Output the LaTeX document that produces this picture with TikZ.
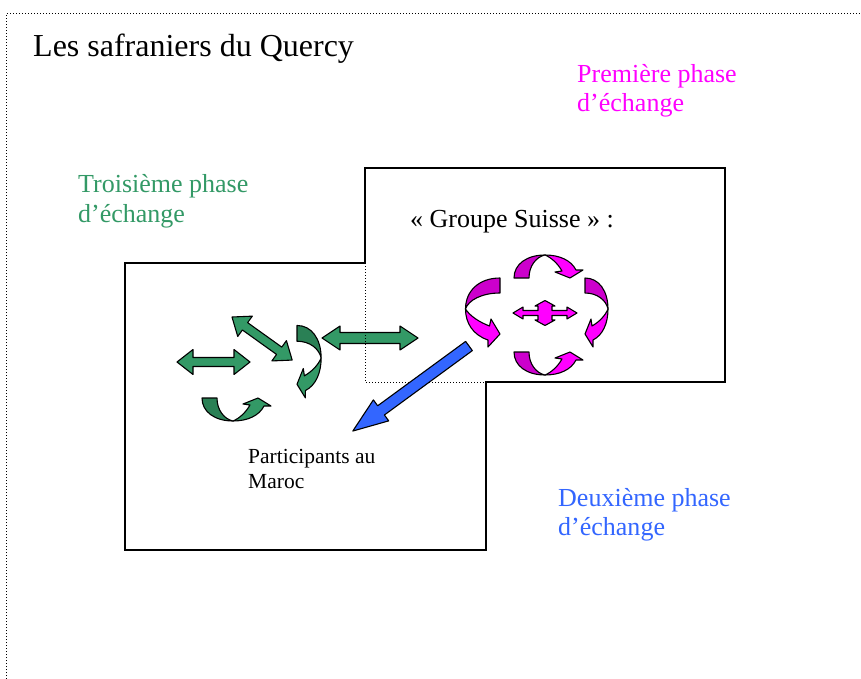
\documentclass[tikz,border=0pt]{standalone}
\usepackage{fontspec}
\setmainfont{Liberation Serif}

\definecolor{phasegreen}{HTML}{339966}
\definecolor{phasegreendk}{HTML}{2A8055}
\definecolor{phasemag}{HTML}{FF00FF}
\definecolor{phasemagdk}{HTML}{CC00CC}
\definecolor{phaseblue}{HTML}{3366FF}

\tikzset{
  shapeline/.style={draw=black, line width=1.1pt, line join=round},
  outline/.style={draw=black, line width=1.5pt},
  dotline/.style={draw=black, line width=1pt, dash pattern=on 1pt off 2pt},
  lbl/.style={anchor=base west, inner sep=0pt, align=left,
              font=\fontsize{26}{29}\selectfont},
}

% ribbon-like U-turn arrow: back half (#2) then front half with head (#3)
\newcommand{\ribbonarrow}[3]{%
  \begin{scope}[#1]
    \path[fill=#2, shapeline] (-31,0) .. controls (-31,-14) and (-18,-23) .. (0,-23)
      .. controls (-9,-21) and (-16,-12) .. (-16,0) -- cycle;
    \path[fill=#3, shapeline] (0,-23) .. controls (14,-23) and (26,-18) .. (31,-8)
      -- (38,-8) -- (25,0) -- (10,-6) -- (17,-7)
      .. controls (13,-14) and (7,-20) .. (0,-23) -- cycle;
  \end{scope}}

% straight double-headed arrow along local x: length, head length, head half-width, shaft half-width
\newcommand{\twoheaded}[5]{%
  \path[fill=phasegreen, shapeline, #1] (0,0) -- (#3,-#4) -- (#3,-#5) -- ({#2-#3},-#5)
    -- ({#2-#3},-#4) -- (#2,0) -- ({#2-#3},#4) -- ({#2-#3},#5) -- (#3,#5) -- (#3,#4) -- cycle;}

\begin{document}
\begin{tikzpicture}[x=1pt, y=-1pt]
  \useasboundingbox (0,0) rectangle (861,679);

  % page frame
  \draw[dotline] (6,679) -- (6,14) -- (861,14);

  % outline of the two overlapping groups
  \draw[outline] (125,263) -- (365,263) -- (365,168) -- (725,168) -- (725,382)
    -- (486,382) -- (486,550) -- (125,550) -- cycle;

  % titles and labels (multi-line labels are anchored on their last baseline)
  \node[lbl, font=\fontsize{32}{36}\selectfont] (title) at (33,57) {Les safraniers du Quercy};
  \node[lbl, text=phasemag] (phase1) at (577,112) {Première phase\\d’échange};
  \node[lbl, text=phasegreen] (phase3) at (78,222) {Troisième phase\\d’échange};
  \node[lbl, text=phaseblue] (phase2) at (558,535) {Deuxième phase\\d’échange};
  \node[lbl] (suisse) at (410,227) {«~Groupe Suisse~»~:};
  \node[lbl, font=\fontsize{21.5}{25}\selectfont] (maroc) at (248,488) {Participants au\\Maroc};

  % green exchanges
  \twoheaded{shift={(177,362)}}{73}{16}{12.5}{4.5}
  \twoheaded{shift={(232,317)}, rotate=-35.6}{74}{16}{12.5}{4.5}
  \twoheaded{shift={(322,338)}}{96}{18}{12}{5.5}
  \ribbonarrow{shift={(297,358)}, rotate=-90, scale=1.05}{phasegreendk}{phasegreen}
  \ribbonarrow{shift={(233,398)}, yscale=-1}{phasegreendk}{phasegreen}

  % magenta exchanges
  \ribbonarrow{shift={(545,278)}}{phasemagdk}{phasemag}
  \ribbonarrow{shift={(545,352)}, yscale=-1}{phasemagdk}{phasemag}
  \ribbonarrow{shift={(585,309)}, rotate=-90}{phasemagdk}{phasemag}
  \ribbonarrow{shift={(500,309)}, cm={0,-1,-1,0,(0,0)}, yscale=1.5}{phasemagdk}{phasemag}
  \path[fill=phasemag, shapeline, shift={(545,313)}]
    (32,0) -- (22,-6) -- (22,-2.5) -- (7,-2.5) -- (7,-7) -- (10,-7) -- (0,-12.5)
    -- (-10,-7) -- (-7,-7) -- (-7,-2.5) -- (-22,-2.5) -- (-22,-6) -- (-32,0)
    -- (-22,6) -- (-22,2.5) -- (-7,2.5) -- (-7,7) -- (-10,7) -- (0,12.5)
    -- (10,7) -- (7,7) -- (7,2.5) -- (22,2.5) -- (22,6) -- cycle;

  % overlap edges
  \draw[dotline] (365,263) -- (365,382) -- (486,382);

  % blue exchange
  \path[fill=phaseblue, shapeline, shift={(469,346)}, rotate=-143.8]
    (0,-5.7) -- (109,-5.7) -- (109,-13) -- (144,0) -- (109,13) -- (109,5.7) -- (0,5.7) -- cycle;
\end{tikzpicture}
\end{document}
